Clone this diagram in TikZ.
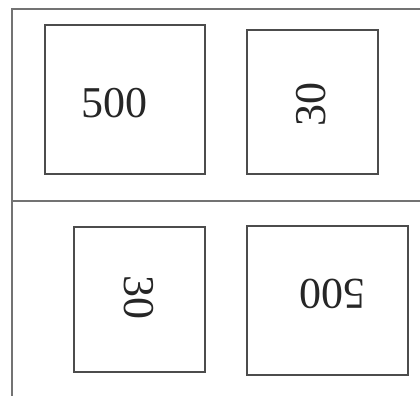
\documentclass[tikz,border=0pt]{standalone}
\usepackage{fontspec}
\setmainfont{Liberation Serif}
\begin{document}
\begin{tikzpicture}[x=1pt,y=-1pt,
  frame/.style={draw=black!55,line width=1.4pt},
  card/.style={draw=black!70,line width=1.3pt},
  num/.style={font=\fontsize{44}{44}\selectfont,text=black!85}]
\useasboundingbox (0,0) rectangle (420,396);
\draw[frame] (420,9) -- (12,9) -- (12,396);
\draw[frame] (12,201) -- (420,201);
\draw[card] (45,25) rectangle (205,174);
\node[num] (a) at (114,103) {500};
\draw[card] (247,30) rectangle (378,174);
\node[num,rotate=90] (b) at (311,104) {30};
\draw[card] (74,227) rectangle (205,372);
\node[num,rotate=-90] (c) at (139,297) {30};
\draw[card] (247,226) rectangle (408,375);
\node[num,rotate=180] (d) at (332,294) {500};
\end{tikzpicture}
\end{document}
